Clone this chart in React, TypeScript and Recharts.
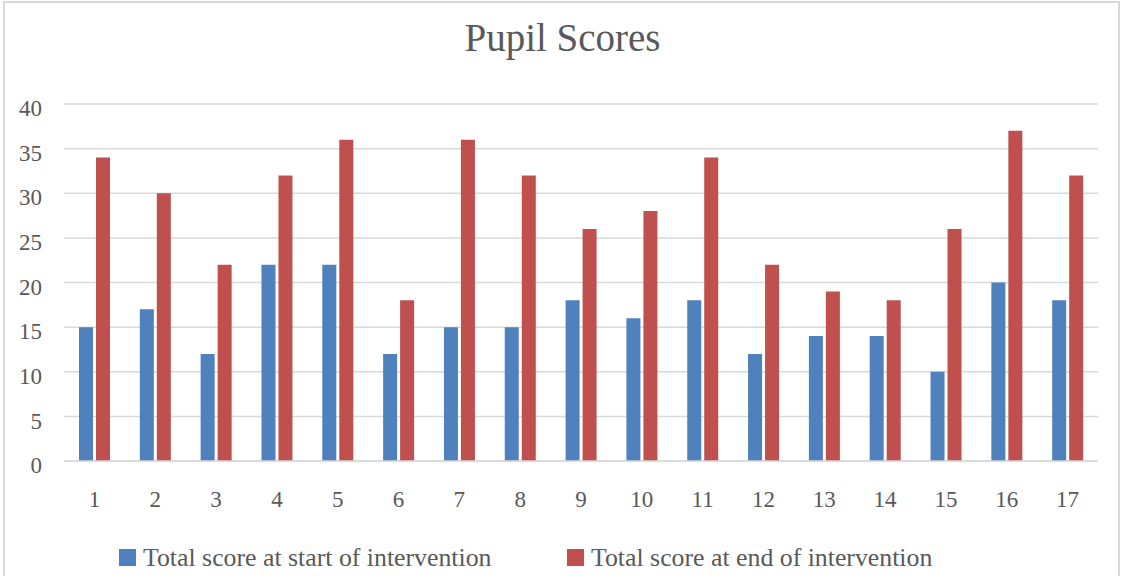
import React from "react";
import { BarChart, Bar, XAxis, YAxis, CartesianGrid, Legend } from "recharts";

const pupils = ["1", "2", "3", "4", "5", "6", "7", "8", "9", "10", "11", "12", "13", "14", "15", "16", "17"];
const startScores = [15, 17, 12, 22, 22, 12, 15, 15, 18, 16, 18, 12, 14, 14, 10, 20, 18];
const endScores = [34, 30, 22, 32, 36, 18, 36, 32, 26, 28, 34, 22, 19, 18, 26, 37, 32];
const yTicks = [0, 5, 10, 15, 20, 25, 30, 35, 40];

const seriesNames = {
  start: "Total score at start of intervention",
  end: "Total score at end of intervention",
};
const legendOrder = ["start", "end"];

const BLUE = "#4f81bd";
const RED = "#c0504d";
const TEXT = "#595959";
const GRID = "#d9d9d9";
const FONT = "'Liberation Serif', 'Times New Roman', serif";

const data = pupils.map((p, i) => ({ pupil: p, start: startScores[i], end: endScores[i] }));

function YTick({ x, y, payload }: any) {
  return (
    <text x={x} y={y + 4} dy="0.355em" textAnchor="end" fill={TEXT} fontSize={23} fontFamily={FONT}>
      {payload.value}
    </text>
  );
}

function XTick({ x, y, payload }: any) {
  return (
    <text x={x} y={y} dy="0.71em" textAnchor="middle" fill={TEXT} fontSize={23} fontFamily={FONT}>
      {payload.value}
    </text>
  );
}

function LegendContent({ payload }: any) {
  const items = legendOrder
    .map((key) => (payload || []).find((p: any) => p.dataKey === key))
    .filter(Boolean);
  return (
    <div style={{ display: "flex", height: 36, alignItems: "center", paddingLeft: 119 }}>
      {items.map((item: any) => (
        <div key={item.value} style={{ display: "flex", alignItems: "center", width: 448 }}>
          <span style={{ width: 17, height: 17, background: item.color, marginRight: 7, display: "inline-block" }} />
          <span style={{ fontFamily: FONT, fontSize: 25.8, lineHeight: 1, color: TEXT }}>{item.value}</span>
        </div>
      ))}
    </div>
  );
}

export default function App() {
  return (
    <div style={{ position: "absolute", left: 0, top: 0, width: 1125, height: 576, overflow: "hidden", background: "#fff" }}>
      <div
        style={{
          position: "absolute",
          left: 3,
          top: 1,
          width: 1113,
          height: 620,
          border: `2px solid ${GRID}`,
        }}
      />
      <div
        style={{
          position: "absolute",
          top: 18,
          left: 0,
          width: 1125,
          textAlign: "center",
          fontFamily: FONT,
          fontSize: 39,
          lineHeight: 1,
          color: TEXT,
        }}
      >
        Pupil Scores
      </div>
      <div style={{ position: "absolute", left: 0, top: 0 }}>
        <BarChart width={1125} height={576} data={data} margin={{ top: 104, right: 27, left: 0, bottom: 0 }} barGap={3}>
          <CartesianGrid vertical={false} stroke={GRID} strokeWidth={1.5} />
          <XAxis
            dataKey="pupil"
            height={79}
            tickSize={0}
            tickMargin={30}
            tickLine={false}
            axisLine={{ stroke: GRID, strokeWidth: 1.5 }}
            tick={<XTick />}
            interval={0}
          />
          <YAxis
            width={64}
            domain={[0, 40]}
            ticks={yTicks}
            tickSize={0}
            tickMargin={22}
            tickLine={false}
            axisLine={false}
            tick={<YTick />}
            interval={0}
          />
          <Legend
            verticalAlign="bottom"
            content={<LegendContent />}
            wrapperStyle={{ left: 0, bottom: 0, width: 1125, height: 36 }}
          />
          <Bar dataKey="start" name={seriesNames.start} fill={BLUE} barSize={14} isAnimationActive={false} />
          <Bar dataKey="end" name={seriesNames.end} fill={RED} barSize={14} isAnimationActive={false} />
        </BarChart>
      </div>
    </div>
  );
}
